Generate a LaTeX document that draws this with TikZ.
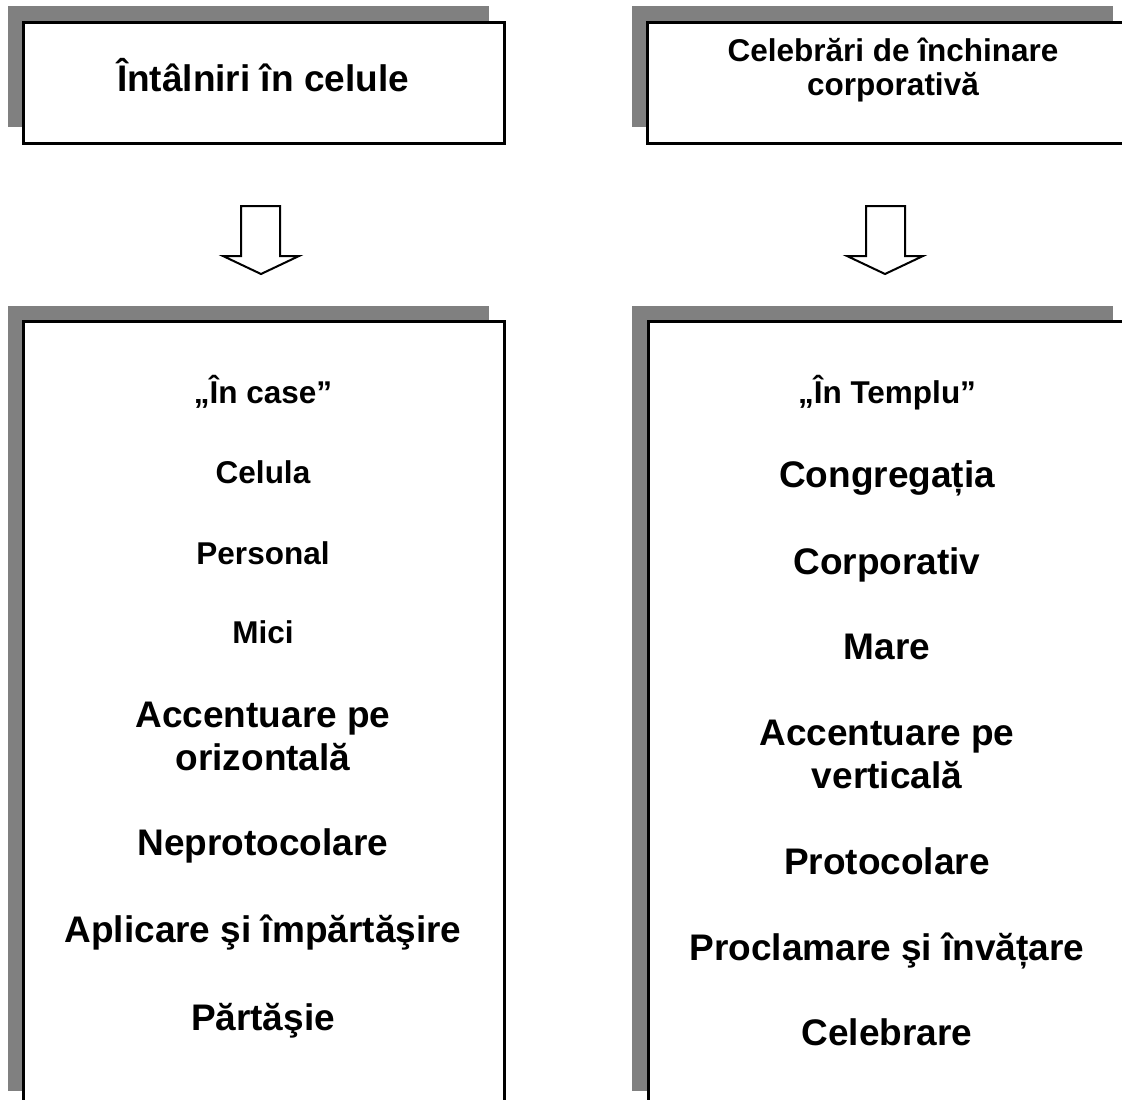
\documentclass[tikz,border=0pt]{standalone}
\usepackage{fontspec}
\setmainfont{Liberation Sans}
\begin{document}
\begin{tikzpicture}[x=1pt,y=-1pt,
  shadowbox/.style={fill=black!50,draw=none},
  mainbox/.style={fill=white,draw=black,line width=3pt},
  blockarrow/.style={fill=white,draw=black,line width=2pt,line join=miter},
  big/.style={font=\fontsize{37}{43}\selectfont\bfseries,inner sep=0pt,anchor=base,align=center},
  small/.style={font=\fontsize{31.5}{34}\selectfont\bfseries,inner sep=0pt,anchor=base,align=center}]
\useasboundingbox (0,0) rectangle (1122,1100);
\clip (0,0) rectangle (1122,1100);
% top boxes
\fill[shadowbox] (8,6) rectangle (489,127);
\draw[mainbox] (23,22) rectangle (504,143);
\fill[shadowbox] (632,6) rectangle (1113,127);
\draw[mainbox] (647,22) rectangle (1128,143);
% bottom boxes
\fill[shadowbox] (8,306) rectangle (489,1091);
\draw[mainbox] (23,321) rectangle (504,1106);
\fill[shadowbox] (632,306) rectangle (1113,1091);
\draw[mainbox] (648,321) rectangle (1128,1106);
% arrows
\draw[blockarrow] (241,206) -- (280,206) -- (280,256) -- (299,256) -- (261,274) -- (223,256) -- (241,256) -- cycle;
\draw[blockarrow] (866,206) -- (905,206) -- (905,256) -- (923,256) -- (885,274) -- (847,256) -- (866,256) -- cycle;
% top texts (base anchor = last line's baseline)
\node[big] (t1) at (263,91) {Întâlniri în celule};
\node[small] (t2) at (893,95) {Celebrări de închinare\\corporativă};
% left column
\node[small] (l1) at (263,403) {„În case”};
\node[small] (l2) at (263,483) {Celula};
\node[small] (l3) at (263,564) {Personal};
\node[small] (l4) at (263,643) {Mici};
\node[big] (l5) at (263,770) {Accentuare pe\\orizontală};
\node[big] (l6) at (263,855) {Neprotocolare};
\node[big] (l7) at (263,942) {Aplicare şi împărtăşire};
\node[big] (l8) at (263,1030) {Părtăşie};
% right column
\node[small] (r1) at (887,403) {„În Templu”};
\node[big] (r2) at (887,487) {Congregația};
\node[big] (r3) at (887,574) {Corporativ};
\node[big] (r4) at (887,659) {Mare};
\node[big] (r5) at (887,788) {Accentuare pe\\verticală};
\node[big] (r6) at (887,874) {Protocolare};
\node[big] (r7) at (887,960) {Proclamare şi învățare};
\node[big] (r8) at (887,1045) {Celebrare};
\end{tikzpicture}
\end{document}
